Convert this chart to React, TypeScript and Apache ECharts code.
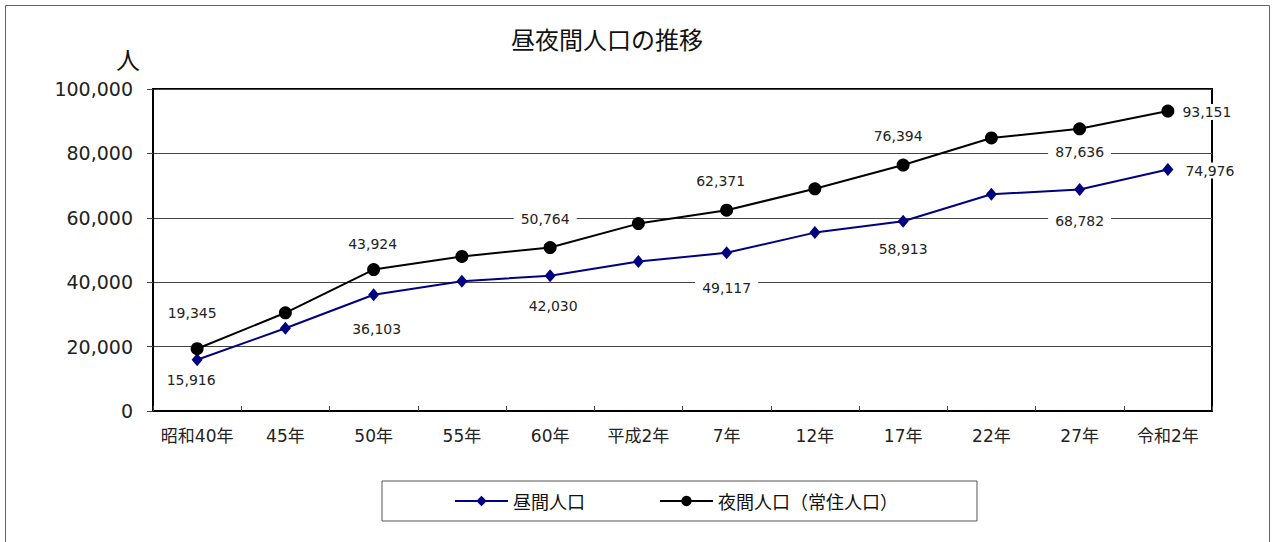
import React, { useEffect, useRef } from "react";
import * as echarts from "echarts";

const categories = ["昭和40年", "45年", "50年", "55年", "60年", "平成2年", "7年", "12年", "17年", "22年", "27年", "令和2年"];
const dayPop = [15916, 25700, 36103, 40300, 42030, 46400, 49117, 55400, 58913, 67300, 68782, 74976];
const nightPop = [19345, 30500, 43924, 48000, 50764, 58200, 62371, 69000, 76394, 84800, 87636, 93151];
const seriesNames = ["昼間人口", "夜間人口（常住人口）"];
const titleText = "昼夜間人口の推移";
const unitText = "人";

// label placement (style only): index -> offset from the point centre
const nightLabelOffsets: Record<number, [number, number]> = {
  0: [-5, -36], 2: [-1, -26], 4: [-5, -29], 6: [-6, -29], 8: [-5, -29], 10: [0, 23], 11: [39, 1],
};
const dayLabelOffsets: Record<number, [number, number]> = {
  0: [-6, 20], 2: [3, 34], 4: [3, 30], 6: [0, 35], 8: [0, 28], 10: [0, 31], 11: [42, 1],
};

const NUM_FONT = "'DejaVu Sans', 'Noto Sans CJK JP', sans-serif";
const JP_FONT = "'Noto Sans CJK JP', sans-serif";

function buildData(values: number[], offsets: Record<number, [number, number]>) {
  return values.map((v, i) => {
    const off = offsets[i];
    if (!off) return { value: v, label: { show: false } };
    return {
      value: v,
      label: {
        show: true,
        position: "inside",
        offset: off,
        formatter: (p: any) => Number(p.value).toLocaleString("en-US"),
        fontSize: 14,
        fontFamily: NUM_FONT,
        color: "#222",
        backgroundColor: "#fff",
        padding: [1, 7],
      },
    };
  });
}

export default function App() {
  const ref = useRef<HTMLDivElement>(null);
  useEffect(() => {
    if (!ref.current) return;
    const chart = echarts.init(ref.current, null, { renderer: "svg" });
    chart.setOption({
      animation: false,
      backgroundColor: "#fff",
      grid: {
        left: 153,
        right: 64,
        top: 89,
        bottom: 131,
        show: true,
        borderColor: "#000",
        borderWidth: 2,
        backgroundColor: "transparent",
      },
      graphic: [
        {
          type: "rect",
          shape: { x: 5.5, y: 5.5, width: 1264, height: 600 },
          style: { fill: "none", stroke: "#666", lineWidth: 1 },
          silent: true,
          z: -10,
        },
        {
          type: "text",
          x: 607,
          y: 38,
          style: {
            text: titleText,
            fontSize: 24,
            fontFamily: JP_FONT,
            fill: "#111",
            textAlign: "center",
            textVerticalAlign: "middle",
          },
        },
        {
          type: "text",
          x: 128,
          y: 58,
          style: {
            text: unitText,
            fontSize: 24,
            fontFamily: JP_FONT,
            fill: "#111",
            textAlign: "center",
            textVerticalAlign: "middle",
          },
        },
      ],
      legend: {
        left: 382,
        top: 481,
        orient: "horizontal",
        borderColor: "#555",
        borderWidth: 1,
        borderRadius: 0,
        padding: [11, 79, 11, 72],
        itemGap: 74,
        itemWidth: 53,
        itemHeight: 13,
        textStyle: { fontSize: 18, fontFamily: JP_FONT, color: "#111" },
        data: seriesNames,
      },
      xAxis: {
        type: "category",
        data: categories,
        boundaryGap: true,
        axisLine: { show: true, lineStyle: { color: "#000", width: 2 } },
        axisTick: { show: true, inside: true, interval: 0, length: 5, lineStyle: { color: "#444", width: 1 } },
        axisLabel: { interval: 0, fontSize: 17, fontFamily: NUM_FONT, color: "#222", margin: 16 },
        splitLine: { show: false },
      },
      yAxis: {
        type: "value",
        min: 0,
        max: 100000,
        interval: 20000,
        axisLine: { show: true, lineStyle: { color: "#000", width: 2 } },
        axisTick: { show: true, length: 6, lineStyle: { color: "#444", width: 1 } },
        axisLabel: {
          fontSize: 19,
          fontFamily: NUM_FONT,
          color: "#222",
          margin: 20,
          formatter: (v: number) => v.toLocaleString("en-US"),
        },
        splitLine: { show: true, lineStyle: { color: "#444", width: 1 } },
      },
      series: [
        {
          name: seriesNames[0],
          type: "line",
          data: buildData(dayPop, dayLabelOffsets),
          symbol: "diamond",
          symbolSize: [11, 13],
          lineStyle: { color: "#000080", width: 2 },
          itemStyle: { color: "#000080" },
          z: 3,
        },
        {
          name: seriesNames[1],
          type: "line",
          data: buildData(nightPop, nightLabelOffsets),
          symbol: "circle",
          symbolSize: 13,
          lineStyle: { color: "#000", width: 2 },
          itemStyle: { color: "#000" },
          z: 4,
        },
      ],
    });
    return () => chart.dispose();
  }, []);
  return <div ref={ref} style={{ position: "absolute", left: 0, top: 0, width: 1276, height: 542 }} />;
}
